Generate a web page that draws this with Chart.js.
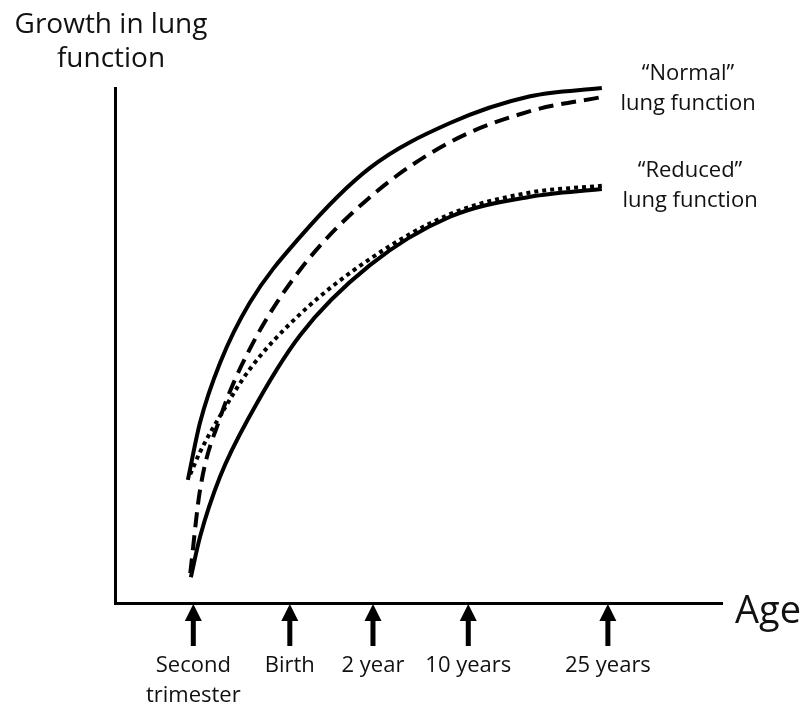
<!DOCTYPE html>
<html>
<head>
<meta charset="utf-8">
<script src="https://cdn.jsdelivr.net/npm/chart.js@4"></script>
<style>
  body { margin: 0; background: #fff; }
</style>
</head>
<body>
<canvas id="lungChart" width="809" height="708"></canvas>
<script>
// Schematic: growth in lung function with age (x and y in relative units 0-100)
const agePositions = [12.9, 28.8, 42.5, 58.2, 81.2];
const ageLabels = [['Second', 'trimester'], 'Birth', '2 year', '10 years', '25 years'];

// [x, y] pairs
const normalSolid = [[12.0, 23.9], [14.0, 35.0], [17.3, 46.6], [22.2, 58.3], [30.5, 71.1],
  [42.0, 84.5], [55.2, 93.2], [68.4, 98.4], [80.2, 100.0]];
const normalDashed = [[12.4, 5.8], [14.0, 21.9], [17.3, 35.9], [22.2, 49.3], [30.5, 64.7],
  [42.0, 78.8], [55.2, 89.5], [68.4, 95.5], [80.4, 98.3]];
const reducedDotted = [[12.4, 25.0], [14.0, 29.3], [17.3, 36.3], [22.2, 45.4], [30.5, 56.1],
  [42.0, 66.8], [55.2, 75.5], [68.4, 79.7], [80.2, 81.0]];
const reducedSolid = [[12.5, 5.0], [14.0, 12.8], [17.3, 24.5], [22.2, 36.3], [30.5, 52.0],
  [42.0, 65.6], [55.2, 75.0], [68.4, 78.9], [80.2, 80.4]];

const toXY = arr => arr.map(p => ({ x: p[0], y: p[1] }));
const FONT = '"Open Sans", sans-serif';
const INK = '#111';

function curve(points, dash) {
  return {
    data: toXY(points),
    borderColor: '#000',
    borderWidth: 4,
    borderDash: dash,
    borderCapStyle: 'butt',
    pointRadius: 0,
    cubicInterpolationMode: 'monotone',
    fill: false,
    clip: false
  };
}

// arrows under the age axis and free text (axis titles, curve notes)
const annotations = {
  id: 'annotations',
  afterDraw(chart) {
    const ctx = chart.ctx;
    const xs = chart.scales.x;
    const base = chart.chartArea.bottom;
    ctx.save();
    ctx.fillStyle = '#000';
    agePositions.forEach(v => {
      const px = xs.getPixelForValue(v);
      ctx.fillRect(px - 2.5, base + 16, 5, 27);
      ctx.beginPath();
      ctx.moveTo(px, base + 1);
      ctx.lineTo(px - 8.5, base + 18);
      ctx.lineTo(px + 8.5, base + 18);
      ctx.closePath();
      ctx.fill();
    });

    ctx.fillStyle = INK;
    ctx.textBaseline = 'alphabetic';
    ctx.textAlign = 'center';
    ctx.font = '28px ' + FONT;
    ctx.fillText('Growth in lung', 111, 33);
    ctx.fillText('function', 111, 67);

    ctx.textAlign = 'left';
    ctx.font = '38px ' + FONT;
    ctx.fillText('Age', 735, 623);

    ctx.textAlign = 'center';
    ctx.font = '22px ' + FONT;
    ctx.fillText('\u201CNormal\u201D', 688, 80);
    ctx.fillText('lung function', 688, 110);
    ctx.fillText('\u201CReduced\u201D', 690, 177);
    ctx.fillText('lung function', 690, 207);
    ctx.restore();
  }
};

const ctxLung = document.getElementById('lungChart').getContext('2d');
const lungChart = new Chart(ctxLung, {
  type: 'line',
  data: {
    datasets: [
      curve(normalSolid, []),
      curve(normalDashed, [15, 8]),
      curve(reducedDotted, [4, 4]),
      curve(reducedSolid, [])
    ]
  },
  options: {
    responsive: false,
    devicePixelRatio: 1,
    animation: false,
    layout: { padding: { top: 88, right: 87, left: 0, bottom: 0 } },
    plugins: { legend: { display: false }, tooltip: { enabled: false } },
    scales: {
      x: {
        type: 'linear',
        min: 0,
        max: 100,
        grid: { display: false, drawTicks: false },
        border: { display: true, color: '#000', width: 3 },
        afterBuildTicks: scale => { scale.ticks = agePositions.map(v => ({ value: v })); },
        afterFit: scale => { scale.height = 105; },
        ticks: {
          autoSkip: false,
          maxRotation: 0,
          padding: 48,
          color: INK,
          font: { family: FONT, size: 22, lineHeight: 1.35 },
          callback: (value, index) => ageLabels[index]
        }
      },
      y: {
        min: 0,
        max: 100,
        grid: { display: false, drawTicks: false },
        border: { display: true, color: '#000', width: 3 },
        ticks: { display: false },
        afterFit: scale => { scale.width = 115; }
      }
    }
  },
  plugins: [annotations]
});
</script>
</body>
</html>
